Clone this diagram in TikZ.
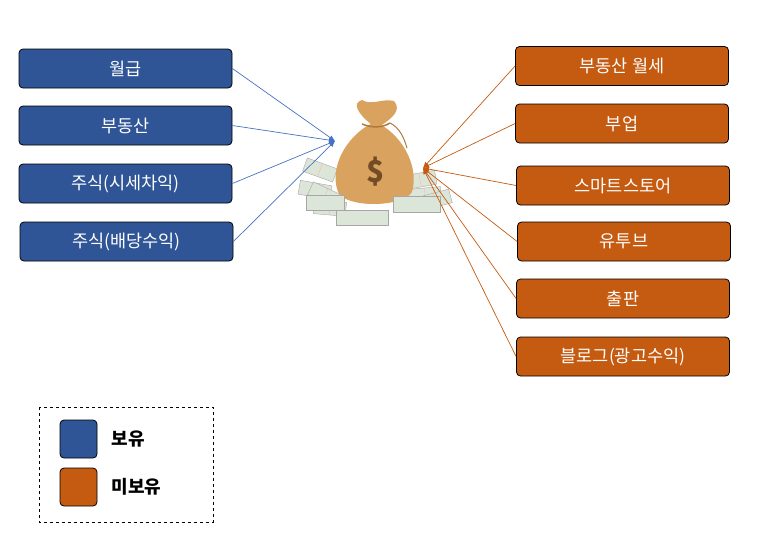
\documentclass[tikz,border=0pt]{standalone}
\usepackage{fontspec}
\setmainfont{Noto Sans CJK KR}
\usetikzlibrary{arrows.meta}
\definecolor{bl}{HTML}{2F5597}
\definecolor{og}{HTML}{C55A11}
\definecolor{bline}{HTML}{4472C4}
\definecolor{bag}{HTML}{D9A35F}
\definecolor{bagd}{HTML}{B07A3A}
\definecolor{cash}{HTML}{DCE6D8}
\tikzset{
 box/.style={draw=black,rounded corners=4pt,minimum width=213pt,minimum height=39pt,text=white,font=\fontsize{17.5}{20}\selectfont,line width=0.8pt},
 hb/.style={box,fill=bl},
 nb/.style={box,fill=og},
 ba/.style={draw=bline,line width=0.7pt,-{Latex[length=6pt,width=5pt]}},
 oa/.style={draw=og,line width=0.7pt,-{Latex[length=6pt,width=5pt]}},
 leg/.style={draw=black,rounded corners=4pt,minimum width=37pt,minimum height=38pt,line width=0.8pt},
 cashs/.style={draw=gray!70,fill=cash,line width=0.4pt}
}
\begin{document}
\begin{tikzpicture}[x=1pt,y=-1pt]
\useasboundingbox (0,0) rectangle (764,544);
\node[hb] (l1) at (125.5,68.5) {월급};
\node[hb] (l2) at (125.5,125.5) {부동산};
\node[hb] (l3) at (125.5,183.5) {주식(시세차익)};
\node[hb] (l4) at (126.5,241.5) {주식(배당수익)};
\node[nb] (r1) at (622,66) {부동산 월세};
\node[nb] (r2) at (622,123.5) {부업};
\node[nb] (r3) at (623,185.5) {스마트스토어};
\node[nb] (r4) at (624,241.5) {유투브};
\node[nb] (r5) at (623,298.5) {출판};
\node[nb] (r6) at (623,356.5) {블로그(광고수익)};
% money bag
\begin{scope}
\foreach \x/\y/\r in {320/170/-20,315/190/-10,330/208/-5,325/195/-25,420/180/10,425/195/5,410/205/0,435/200/15} {
 \draw[cashs,rotate around={\r:(\x,\y)}] (\x-16,\y-7) rectangle (\x+16,\y+7);
 \draw[red!30,rotate around={\r:(\x,\y)}] (\x,\y-7) -- (\x,\y+7);
}
\fill[bag] (375,122) .. controls (400,132) and (420,165) .. (412,192) .. controls (402,208) and (345,208) .. (338,192) .. controls (328,165) and (350,132) .. (375,122);
\fill[bag] (372,125) .. controls (357,113) and (352,103) .. (362,100) .. controls (372,106) and (382,98) .. (394,101) .. controls (402,110) and (392,118) .. (382,125) -- cycle;
\draw[bagd,line width=1.5pt] (362,124) .. controls (372,128) and (382,128) .. (390,123);
\draw[bagd,line width=1pt] (390,123) .. controls (400,128) and (404,138) .. (407,148);
\node[text=brown!60!black,font=\fontsize{30}{30}\selectfont\bfseries] (bagc) at (376,172) {\$};
\draw[cashs] (336,210) rectangle (388,225);
\draw[cashs] (393,196) rectangle (440,212);
\draw[cashs] (306,195) rectangle (344,210);
\end{scope}
\coordinate (bt) at (335,141);
\coordinate (ot) at (423,168);
\foreach \n in {l1,l2,l3,l4} \draw[ba] (\n.east) -- (bt);
\foreach \n in {r1,r2,r3,r4,r5,r6} \draw[oa] (\n.west) -- (ot);
% legend
\draw[dashed,line width=0.6pt] (39,407) rectangle (213,522);
\node[leg,fill=bl] (k1) at (78.5,439) {};
\node[leg,fill=og] (k2) at (78.5,487) {};
\node[anchor=west,font=\fontsize{18}{20}\selectfont\bfseries] (t1) at (108,439) {보유};
\node[anchor=west,font=\fontsize{18}{20}\selectfont\bfseries] (t2) at (108,487) {미보유};
\end{tikzpicture}
\end{document}
